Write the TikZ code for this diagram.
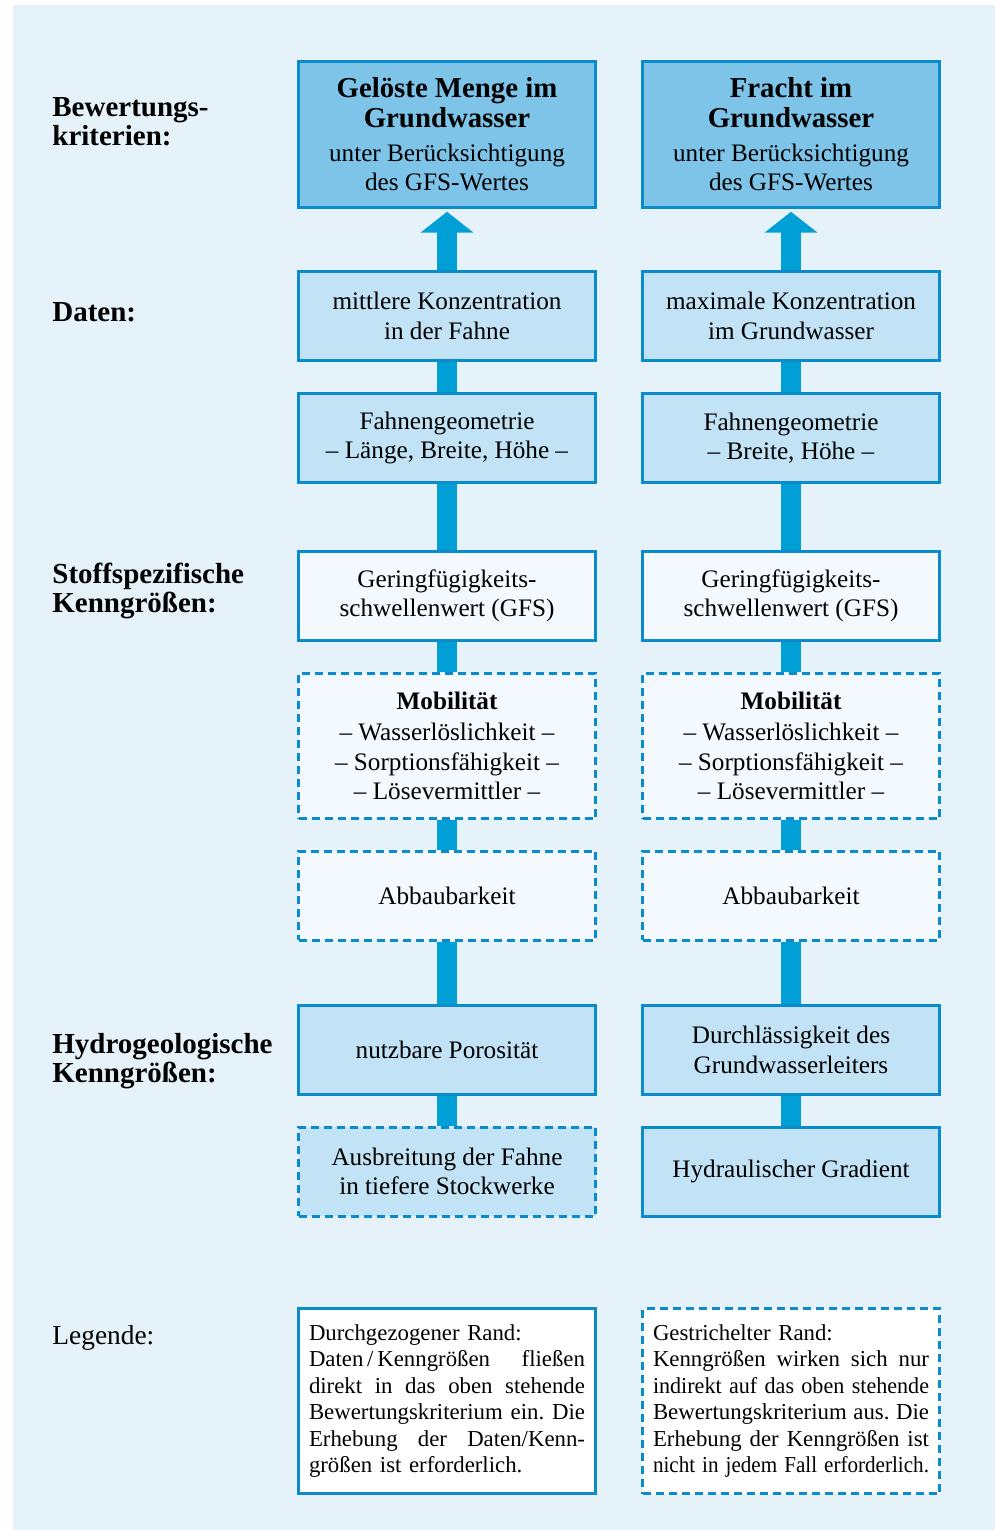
\documentclass[tikz,border=0pt]{standalone}
\usepackage{fontspec}
\usepackage{graphicx}
\setmainfont{Liberation Serif}
\usetikzlibrary{arrows.meta,backgrounds}
\definecolor{panel}{RGB}{229,242,250}
\definecolor{darkfill}{RGB}{125,196,232}
\definecolor{midfill}{RGB}{194,226,245}
\definecolor{palefill}{RGB}{243,249,254}
\definecolor{rim}{RGB}{10,140,204}
\definecolor{conn}{RGB}{0,160,214}
\newcommand\crittitle[1]{{\fontsize{14.4pt}{14.75pt}\selectfont\bfseries #1}}
\newcommand\jline[1]{\leavevmode\hbox to 138pt{#1}}
\tikzset{
  box/.style={draw=rim, line width=1.5pt, minimum width=148.5pt, minimum height=44.5pt,
    inner sep=0pt, align=center, font=\fontsize{12.6pt}{14.75pt}\selectfont},
  dashbox/.style={box, dash pattern=on 4pt off 2.5pt},
  tallbox/.style={minimum height=72.75pt},
  legbox/.style={minimum height=92.5pt, fill=white, align=left, text width=138pt,
    font=\fontsize{11.4pt}{13.25pt}\selectfont},
  link/.style={draw=conn, line width=10pt},
  side/.style={anchor=west, align=left, inner sep=0pt, font=\fontsize{14.5pt}{14.5pt}\selectfont\bfseries},
}
\begin{document}
\begin{tikzpicture}[x=0.5pt,y=-0.5pt]
\useasboundingbox (0,0) rectangle (995,1530);
\begin{pgfonlayer}{background}
  \fill[white] (0,0) rectangle (995,1530);
  \fill[panel] (13,5) rectangle (995,1530);
\end{pgfonlayer}

% side labels
\node[side] (s1) at (52,121.5) {Bewertungs-\\kriterien:};
\node[side] (s2) at (52,312) {Daten:};
\node[side] (s3) at (52,590.5) {Stoffspezifische\\Kenngrößen:};
\node[side] (s4) at (52,1061) {Hydrogeologische\\Kenngrößen:};
\node[side, font=\fontsize{13.7pt}{14.5pt}\selectfont] (s5) at (52,1338) {Legende:};

% left column
\node[box, tallbox, fill=darkfill] (l1) at (447,134.5)
  {\crittitle{Gelöste Menge im}\\\crittitle{Grundwasser}\\[2.25pt]unter Berücksichtigung\\des GFS-Wertes};
\node[box, fill=midfill] (l2) at (447,316) {mittlere Konzentration\\in der Fahne};
\node[box, fill=midfill] (l3) at (447,438) {Fahnengeometrie\\– Länge, Breite, Höhe –};
\node[box, fill=palefill] (l4) at (447,596) {Geringfügigkeits-\\schwellenwert (GFS)};
\node[dashbox, tallbox, fill=palefill] (l5) at (447,746)
  {\textbf{Mobilität}\\[1pt]– Wasserlöslichkeit –\\– Sorptionsfähigkeit –\\– Lösevermittler –};
\node[dashbox, fill=palefill] (l6) at (447,895.5) {Abbaubarkeit};
\node[box, fill=midfill] (l7) at (447,1050) {nutzbare Porosität};
\node[dashbox, fill=midfill] (l8) at (447,1171.5) {Ausbreitung der Fahne\\in tiefere Stockwerke};

% right column
\node[box, tallbox, fill=darkfill] (r1) at (791,134.5)
  {\crittitle{Fracht im}\\\crittitle{Grundwasser}\\[2.25pt]unter Berücksichtigung\\des GFS-Wertes};
\node[box, fill=midfill] (r2) at (791,316) {maximale Konzentration\\im Grundwasser};
\node[box, fill=midfill] (r3) at (791,438) {Fahnengeometrie\\– Breite, Höhe –};
\node[box, fill=palefill] (r4) at (791,596) {Geringfügigkeits-\\schwellenwert (GFS)};
\node[dashbox, tallbox, fill=palefill] (r5) at (791,746)
  {\textbf{Mobilität}\\[1pt]– Wasserlöslichkeit –\\– Sorptionsfähigkeit –\\– Lösevermittler –};
\node[dashbox, fill=palefill] (r6) at (791,895.5) {Abbaubarkeit};
\node[box, fill=midfill] (r7) at (791,1050) {Durchlässigkeit des\\Grundwasserleiters};
\node[box, fill=midfill] (r8) at (791,1171.5) {Hydraulischer Gradient};

% legend
\node[box, legbox] (lg1) at (447,1401)
  {Durchgezogener Rand:\\
   \jline{Daten\,/\,Kenngrößen\hfill fließen}\\
   \jline{direkt\hfill in\hfill das\hfill oben\hfill stehende}\\
   \jline{Bewertungskriterium\hfill ein.\hfill Die}\\
   \jline{Erhebung\hfill der\hfill Daten/Kenn-}\\
   größen ist erforderlich.};
\node[dashbox, legbox] (lg2) at (791,1401)
  {Gestrichelter Rand:\\
   \jline{Kenngrößen\hfill wirken\hfill sich\hfill nur}\\
   \resizebox{138pt}{\height}{indirekt auf das oben stehende}\\
   \jline{Bewertungskriterium\hfill aus.\hfill Die}\\
   \jline{Erhebung\hfill der\hfill Kenngrößen\hfill ist}\\
   \resizebox{138pt}{\height}{nicht in jedem Fall erforderlich.}};

% connectors
\begin{pgfonlayer}{background}
  \foreach \c in {l,r}{
    \draw[link, -{Triangle[length=10.5pt 0 0, width=26pt 0 0]}, shorten >=1.5pt] (\c2.north) -- (\c1.south);
    \draw[link] (\c2.south) -- (\c3.north);
    \draw[link] (\c3.south) -- (\c4.north);
    \draw[link] (\c4.south) -- (\c5.north);
    \draw[link] (\c5.south) -- (\c6.north);
    \draw[link] (\c6.south) -- (\c7.north);
    \draw[link] (\c7.south) -- (\c8.north);
  }
\end{pgfonlayer}
\end{tikzpicture}
\end{document}
